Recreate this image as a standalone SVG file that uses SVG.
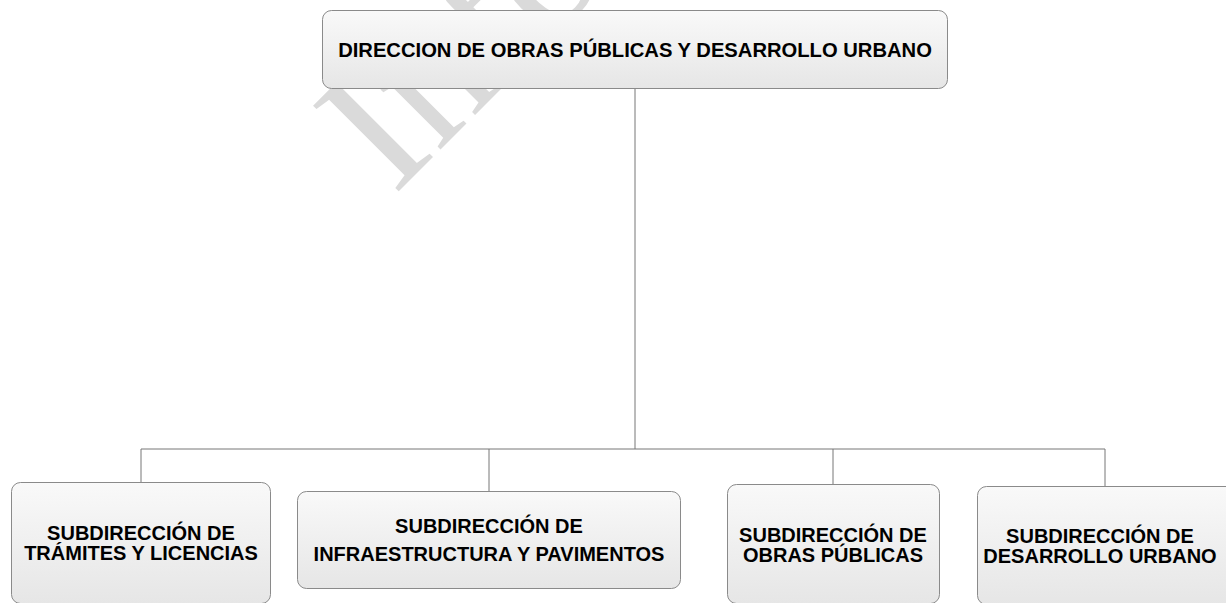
<svg xmlns="http://www.w3.org/2000/svg" width="1226" height="603" viewBox="0 0 1226 603">
  <defs>
    <linearGradient id="boxfill" x1="0" y1="0" x2="0" y2="1">
      <stop offset="0" stop-color="#f9f9f9"/>
      <stop offset="1" stop-color="#e6e6e6"/>
    </linearGradient>
    <style>
      .box { fill: url(#boxfill); stroke: #8a8a8a; stroke-width: 1; }
      .lbl { font-family: "Liberation Sans", Arial, sans-serif; font-weight: bold; font-size: 20px; fill: #000; text-anchor: middle; }
      .conn { stroke: #777; stroke-width: 1; fill: none; }
      .wm { font-family: "Liberation Serif", "Times New Roman", serif; font-size: 185px; fill: #dadada; }
    </style>
  </defs>
  <rect width="1226" height="603" fill="#fff"/>
  <text class="wm" transform="translate(394,196) rotate(-45)" x="0" y="0">Información</text>
  <g id="connectors">
    <line class="conn" x1="635" y1="88" x2="635" y2="449"/>
    <line class="conn" x1="141" y1="449" x2="1105" y2="449"/>
    <line class="conn" x1="141" y1="449" x2="141" y2="482"/>
    <line class="conn" x1="489" y1="449" x2="489" y2="491"/>
    <line class="conn" x1="833" y1="449" x2="833" y2="484"/>
    <line class="conn" x1="1105" y1="449" x2="1105" y2="486"/>
  </g>
  <g id="node-direccion">
    <rect class="box" x="322.5" y="10.5" width="625" height="78" rx="9"/>
    <text class="lbl" x="635" y="57" style="font-size:20.2px">DIRECCION DE OBRAS PÚBLICAS Y DESARROLLO URBANO</text>
  </g>
  <g id="node-tramites">
    <rect class="box" x="11.5" y="482.5" width="259" height="121" rx="9"/>
    <text class="lbl" x="141" y="540">SUBDIRECCIÓN DE</text>
    <text class="lbl" x="141" y="560">TRÁMITES Y LICENCIAS</text>
  </g>
  <g id="node-infraestructura">
    <rect class="box" x="297.5" y="491.5" width="383" height="97" rx="9"/>
    <text class="lbl" x="489" y="533">SUBDIRECCIÓN DE</text>
    <text class="lbl" x="489" y="561">INFRAESTRUCTURA Y PAVIMENTOS</text>
  </g>
  <g id="node-obras">
    <rect class="box" x="727.5" y="484.5" width="212" height="119" rx="9"/>
    <text class="lbl" x="833" y="542">SUBDIRECCIÓN DE</text>
    <text class="lbl" x="833" y="562">OBRAS PÚBLICAS</text>
  </g>
  <g id="node-desarrollo">
    <rect class="box" x="977.5" y="486.5" width="270" height="118" rx="9"/>
    <text class="lbl" x="1100" y="543">SUBDIRECCIÓN DE</text>
    <text class="lbl" x="1100" y="563">DESARROLLO URBANO</text>
  </g>
</svg>
